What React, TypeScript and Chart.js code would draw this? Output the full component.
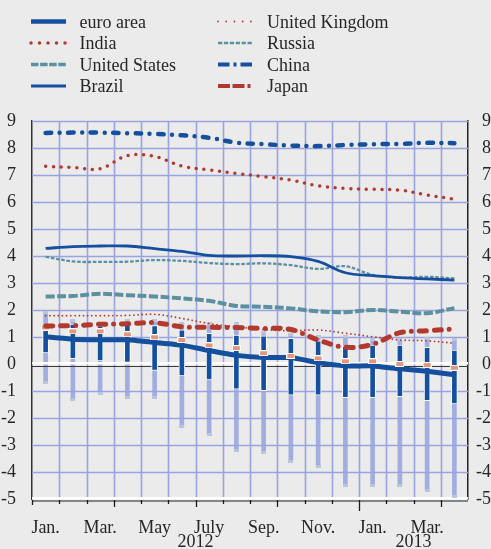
import React, { useEffect, useRef } from "react";
import { Chart, registerables } from "chart.js";

Chart.register(...registerables);

// ---------- data ----------
const months = ["Jan.", "Feb.", "Mar.", "Apr.", "May", "June", "July", "Aug.", "Sep.", "Oct.", "Nov.", "Dec.", "Jan.", "Feb.", "Mar.", "Apr."];
const shownMonthLabels = ["Jan.", "", "Mar.", "", "May", "", "July", "", "Sep.", "", "Nov.", "", "Jan.", "", "Mar.", ""];
const years = ["2012", "2013"];
const yearFirstIndex = [0, 12];
const yearLastIndex = [11, 15];

const euroMedian = [1.01, 0.92, 0.9, 0.9, 0.8, 0.7, 0.5, 0.32, 0.24, 0.24, 0.05, -0.07, -0.07, -0.18, -0.27, -0.4];
const euroMean = [1.35, 1.21, 1.21, 1.1, 0.99, 0.89, 0.69, 0.59, 0.4, 0.3, 0.21, 0.1, 0.1, 0.0, -0.04, -0.14];
const euroQ1 = [0.41, 0.2, 0.11, 0.06, -0.24, -0.44, -0.59, -0.93, -0.99, -1.15, -1.15, -1.25, -1.25, -1.21, -1.36, -1.48];
const euroQ3 = [1.35, 1.48, 1.4, 1.45, 1.42, 1.27, 1.14, 1.07, 1.04, 0.95, 0.86, 0.66, 0.7, 0.7, 0.62, 0.52];
const euroMin = [-0.69, -1.3, -1.11, -1.23, -1.23, -2.3, -2.6, -3.22, -3.28, -3.6, -3.8, -4.5, -4.5, -4.5, -4.67, -4.9];
const euroMax = [1.9, 1.6, 1.5, 1.6, 1.6, 1.5, 1.5, 1.5, 1.16, 1.1, 1.01, 1.01, 0.91, 0.89, 0.95, 0.89];

const china = [8.56, 8.57, 8.57, 8.55, 8.52, 8.47, 8.38, 8.2, 8.14, 8.09, 8.07, 8.11, 8.14, 8.15, 8.19, 8.18];
const india = [7.32, 7.28, 7.23, 7.72, 7.69, 7.33, 7.19, 7.06, 6.94, 6.81, 6.6, 6.5, 6.47, 6.44, 6.26, 6.1];
const brazil = [4.28, 4.35, 4.37, 4.37, 4.27, 4.17, 4.02, 4.0, 4.01, 3.98, 3.8, 3.38, 3.27, 3.2, 3.15, 3.11];
const russia = [3.97, 3.8, 3.78, 3.79, 3.85, 3.82, 3.74, 3.7, 3.73, 3.66, 3.52, 3.62, 3.3, 3.2, 3.23, 3.17];
const unitedStates = [2.5, 2.52, 2.6, 2.55, 2.5, 2.43, 2.34, 2.15, 2.12, 2.06, 1.95, 1.92, 2.0, 1.94, 1.88, 2.07];
const unitedKingdom = [1.79, 1.79, 1.79, 1.8, 1.84, 1.69, 1.5, 1.38, 1.28, 1.23, 1.26, 1.14, 1.01, 0.89, 0.86, 0.77];
const japan = [1.41, 1.42, 1.47, 1.49, 1.53, 1.38, 1.36, 1.35, 1.32, 1.28, 0.89, 0.62, 0.73, 1.16, 1.23, 1.3];

// ---------- styles ----------
const BG = "#ebebeb";
const GRID = "#98a3e0";
const BLUE = "#15509f";
const RED = "#b3382e";
const TEAL = "#5b90a0";
const LIGHT_BAR = "#a2ade0";
const FONT = "'Liberation Serif', 'Times New Roman', serif";
const TEXT = "#262626";

type LegendStyle = { color: string; width: number; dash: number[]; cap: CanvasLineCap };
const legendStyles: Record<string, LegendStyle> = {
  "euro area": { color: BLUE, width: 4.3, dash: [], cap: "butt" },
  India: { color: RED, width: 3.5, dash: [0, 8.5], cap: "round" },
  "United States": { color: TEAL, width: 3.6, dash: [7.5, 1.6], cap: "butt" },
  Brazil: { color: BLUE, width: 3, dash: [], cap: "butt" },
  "United Kingdom": { color: RED, width: 1.8, dash: [0, 8.2], cap: "round" },
  Russia: { color: TEAL, width: 2.3, dash: [4.3, 1.6], cap: "butt" },
  China: { color: BLUE, width: 4, dash: [11.5, 4, 3, 4], cap: "butt" },
  Japan: { color: RED, width: 4, dash: [12, 2.5, 12, 3, 3, 3], cap: "butt" },
};
const legendColumns = [
  ["euro area", "India", "United States", "Brazil"],
  ["United Kingdom", "Russia", "China", "Japan"],
];

function makeRectImage(w: number, h: number, fill: string, border: string | null) {
  const c = document.createElement("canvas");
  c.width = w;
  c.height = h;
  const g = c.getContext("2d")!;
  if (border) {
    g.fillStyle = border;
    g.fillRect(0, 0, w, h);
    g.fillStyle = fill;
    g.fillRect(1, 1, w - 2, h - 2);
  } else {
    g.fillStyle = fill;
    g.fillRect(0, 0, w, h);
  }
  return c;
}

function drawGrid(chart: any) {
  const { ctx, chartArea } = chart;
  const xs = chart.scales.x;
  const ys = chart.scales.y;
  ctx.save();
  ctx.setLineDash([]);
  ctx.lineCap = "butt";
  ctx.lineWidth = 1.6;
  ctx.strokeStyle = GRID;
  for (let i = 1; i < months.length; i++) {
    const x = Math.round(xs.getPixelForValue(i - 0.5)) + 0.5;
    ctx.beginPath();
    ctx.moveTo(x, chartArea.top);
    ctx.lineTo(x, chartArea.bottom);
    ctx.stroke();
  }
  ys.ticks.forEach((t: any) => {
    if (t.value === 0 || t.value === -5) return;
    const yy = Math.round(ys.getPixelForValue(t.value)) + 0.5;
    ctx.beginPath();
    ctx.moveTo(chartArea.left, yy);
    ctx.lineTo(chartArea.right, yy);
    ctx.stroke();
  });
  const yMin = Math.round(ys.getPixelForValue(-5));
  ctx.fillStyle = "#ffffff";
  ctx.fillRect(chartArea.left, yMin - 2, chartArea.right - chartArea.left, 2.5);
  ctx.restore();
}

function drawZero(chart: any) {
  const { ctx, chartArea } = chart;
  const y0 = Math.round(chart.scales.y.getPixelForValue(0));
  ctx.save();
  ctx.setLineDash([]);
  ctx.fillStyle = "#ffffff";
  ctx.fillRect(chartArea.left, y0 - 2, chartArea.right - chartArea.left, 2.5);
  ctx.strokeStyle = "#3a3a3a";
  ctx.lineWidth = 1;
  ctx.beginPath();
  ctx.moveTo(chartArea.left, y0 + 2.5);
  ctx.lineTo(chartArea.right, y0 + 2.5);
  ctx.stroke();
  ctx.restore();
}

const backgroundPlugin = {
  id: "bgFill",
  beforeDraw(chart: any) {
    const { ctx, width, height } = chart;
    ctx.save();
    ctx.fillStyle = BG;
    ctx.fillRect(0, 0, width, height);
    ctx.restore();
  },
};

const layerPlugin = {
  id: "layerDecor",
  afterDatasetDraw(chart: any, args: any) {
    if (chart.data.datasets[args.index].id === "range") {
      drawGrid(chart);
      drawZero(chart);
    }
  },
};

const axisDecorPlugin = {
  id: "axisDecor",
  afterDraw(chart: any) {
    const { ctx, chartArea } = chart;
    const xs = chart.scales.x;
    const yb = chartArea.bottom + 2;
    ctx.save();
    ctx.setLineDash([]);
    ctx.strokeStyle = "#858585";
    ctx.lineWidth = 2;
    ctx.beginPath();
    ctx.moveTo(chartArea.left, yb);
    ctx.lineTo(chartArea.right, yb);
    ctx.stroke();
    ctx.strokeStyle = "#1a1a1a";
    ctx.lineWidth = 1.3;
    for (let i = 0; i <= months.length; i++) {
      const x = Math.round(xs.getPixelForValue(i - 0.5)) + 0.5;
      let len = 3;
      if (i === 0) len = 4;
      else if (i === months.length) len = 0;
      else if (i % 12 === 0) len = 10;
      else if (i % 3 === 0) len = 6;
      if (len > 0) {
        ctx.beginPath();
        ctx.moveTo(x, yb - 1);
        ctx.lineTo(x, yb + len);
        ctx.stroke();
      }
    }
    ctx.fillStyle = TEXT;
    ctx.font = `18px ${FONT}`;
    ctx.textAlign = "center";
    ctx.textBaseline = "middle";
    years.forEach((yr, k) => {
      const x = (xs.getPixelForValue(yearFirstIndex[k]) + xs.getPixelForValue(yearLastIndex[k])) / 2;
      ctx.fillText(yr, x, chartArea.bottom + 43);
    });
    ctx.restore();
  },
};

const legendPlugin = {
  id: "customLegend",
  afterDraw(chart: any) {
    const { ctx } = chart;
    const lineX = [31, 218];
    const textX = [79.5, 267];
    ctx.save();
    ctx.font = `18px ${FONT}`;
    ctx.textAlign = "left";
    ctx.textBaseline = "alphabetic";
    legendColumns.forEach((col, c) => {
      col.forEach((name, r) => {
        const base = 27.5 + r * 21.5;
        const ly = base - 6;
        const st = legendStyles[name];
        ctx.strokeStyle = st.color;
        ctx.lineWidth = st.width;
        ctx.lineCap = st.cap;
        ctx.setLineDash(st.dash);
        ctx.beginPath();
        ctx.moveTo(lineX[c], ly);
        ctx.lineTo(lineX[c] + 35, ly);
        ctx.stroke();
        ctx.setLineDash([]);
        ctx.fillStyle = TEXT;
        ctx.fillText(name, textX[c], base);
      });
    });
    ctx.restore();
  },
};

export default function App() {
  const canvasRef = useRef<HTMLCanvasElement | null>(null);

  useEffect(() => {
    if (!canvasRef.current) return;
    Chart.defaults.font.family = FONT;
    Chart.defaults.font.size = 18;
    Chart.defaults.color = TEXT;

    const meanImg = makeRectImage(9, 6, "#e3967b", "#ffffff");
    const capImg = makeRectImage(5, 3, "#b9c5da", null);

    const line = (label: string, data: number[], extra: any) => ({
      type: "line",
      label,
      data,
      fill: false,
      pointRadius: 0,
      tension: 0.35,
      ...extra,
    });

    const chart = new Chart(canvasRef.current, {
      type: "bar",
      data: {
        labels: months,
        datasets: [
          {
            id: "range",
            type: "bar",
            label: "range",
            data: euroMin.map((m, i) => [m, euroMax[i]]),
            backgroundColor: LIGHT_BAR,
            barThickness: 4,
            grouped: false,
            order: 10,
          },
          {
            type: "line",
            label: "range min",
            data: euroMin,
            showLine: false,
            fill: false,
            pointStyle: capImg,
            pointRadius: 3,
            order: 9,
          },
          {
            type: "line",
            label: "range max",
            data: euroMax,
            showLine: false,
            fill: false,
            pointStyle: capImg,
            pointRadius: 3,
            order: 9,
          },
          {
            type: "bar",
            label: "interquartile",
            data: euroQ1.map((m, i) => [m, euroQ3[i]]),
            backgroundColor: BLUE,
            borderColor: "#ffffff",
            borderWidth: 1,
            borderSkipped: false,
            barThickness: 6,
            grouped: false,
            order: 8,
          },
          line("euro area", euroMedian, { borderColor: BLUE, borderWidth: 5, tension: 0.15, order: 7 }),
          {
            type: "line",
            label: "mean",
            data: euroMean,
            showLine: false,
            fill: false,
            pointStyle: meanImg,
            pointRadius: 4,
            order: 6,
          },
          line("United Kingdom", unitedKingdom, { borderColor: RED, borderWidth: 1.8, borderDash: [0, 4.2], borderCapStyle: "round", order: 5 }),
          line("Russia", russia, { borderColor: TEAL, borderWidth: 2.3, borderDash: [3.6, 1.7], order: 4 }),
          line("United States", unitedStates, { borderColor: TEAL, borderWidth: 4, borderDash: [9, 2.5], order: 3 }),
          line("Brazil", brazil, { borderColor: BLUE, borderWidth: 2.8, order: 2 }),
          line("India", india, { borderColor: RED, borderWidth: 3.5, borderDash: [0, 7.8], borderCapStyle: "round", order: 1 }),
          line("Japan", japan, { borderColor: RED, borderWidth: 5, borderDash: [7, 8, 7, 8, 0, 8], borderCapStyle: "round", order: 0.5 }),
          line("China", china, { borderColor: BLUE, borderWidth: 4.5, borderDash: [5.5, 8.5, 0, 8.5], borderCapStyle: "round", order: 0 }),
        ] as any,
      },
      options: {
        responsive: false,
        animation: false,
        events: [],
        devicePixelRatio: 1,
        layout: { padding: { top: 121, left: 0, right: 0, bottom: 0 } },
        plugins: {
          legend: { display: false },
          tooltip: { enabled: false },
        },
        scales: {
          x: {
            offset: true,
            grid: { display: false },
            border: { display: false },
            ticks: {
              autoSkip: false,
              maxRotation: 0,
              padding: 10,
              color: TEXT,
              callback: (_v: any, i: number) => shownMonthLabels[i],
            },
            afterFit: (s: any) => {
              s.height = 50;
            },
          },
          y: {
            position: "left",
            min: -5,
            max: 9,
            ticks: { stepSize: 1, padding: 8, color: TEXT },
            grid: { display: false },
            border: { color: "#333333", width: 1.5 },
            afterFit: (s: any) => {
              s.width = 32;
            },
          },
          y2: {
            position: "right",
            min: -5,
            max: 9,
            ticks: { stepSize: 1, padding: 7, crossAlign: "far", color: TEXT },
            grid: { display: false },
            border: { color: "#222222", width: 1.5 },
            afterFit: (s: any) => {
              s.width = 23;
            },
          },
        },
      } as any,
      plugins: [backgroundPlugin, layerPlugin, axisDecorPlugin, legendPlugin],
    });

    return () => chart.destroy();
  }, []);

  return (
    <div style={{ position: "absolute", left: 0, top: 0, width: 491, height: 549, background: BG }}>
      <canvas ref={canvasRef} width={491} height={549} style={{ display: "block" }} />
    </div>
  );
}
